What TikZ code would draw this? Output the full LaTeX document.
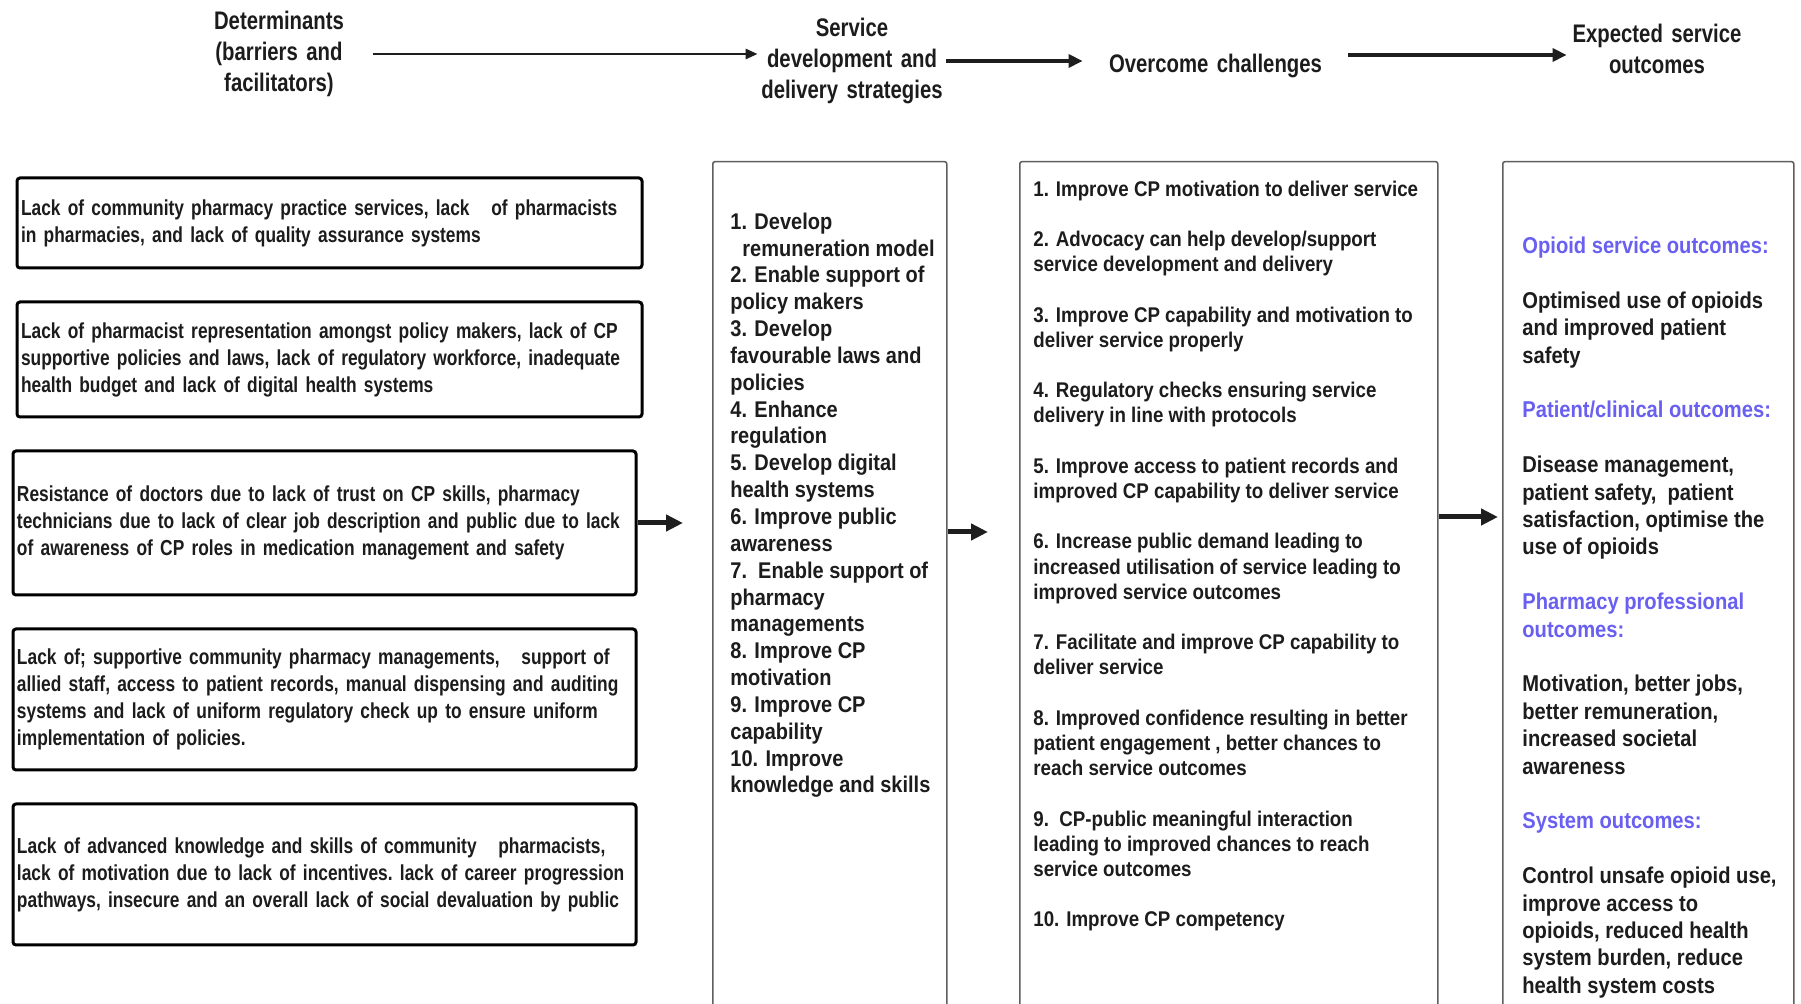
\documentclass[tikz,border=0pt]{standalone}
\usepackage{fontspec}
\setmainfont{Liberation Sans}
\newfontfamily\narrowsans[FakeStretch=0.8]{Liberation Sans}
\newfontfamily\listsans[FakeStretch=0.88]{Liberation Sans}
\usetikzlibrary{arrows.meta,calc}
\definecolor{ink}{RGB}{28,28,28}
\definecolor{arrowink}{RGB}{30,30,30}
\definecolor{frame}{RGB}{95,95,95}
\definecolor{outcomeblue}{RGB}{105,95,240}

\begin{document}
\begin{tikzpicture}[x=0.5pt,y=-0.5pt,
  every node/.style={text=ink},
  header/.style={align=center, inner sep=0pt,
    font=\narrowsans\bfseries\fontsize{12.7}{15.35}\selectfont},
  barrier/.style={draw=black, line width=1.5pt, rounded corners=1.5pt,
    align=left, inner xsep=2pt, inner ysep=0pt,
    font=\narrowsans\bfseries\fontsize{10.85}{13.5}\selectfont,
    execute at begin node={\hyphenpenalty=10000\relax\frenchspacing}},
  column/.style={draw=frame, line width=0.75pt, rounded corners=1pt,
    inner sep=0pt, anchor=north west},
  listtext/.style={align=left, inner sep=0pt, anchor=north west},
  thinarrow/.style={draw=arrowink, line width=1.3pt,
    -{Triangle[length=6pt,width=5pt]}},
  thickarrow/.style={draw=arrowink, line width=2pt,
    -{Triangle[length=7pt,width=6.5pt]}},
  flowarrow/.style={draw=arrowink, line width=2.5pt,
    -{Triangle[length=8.5pt,width=8pt]}},
]
% canvas
\path[use as bounding box, fill=white] (0,0) rectangle (1801,1004);
\clip (0,0) rectangle (1801,1004);

% ---- column headers ----
\node[header, text width=94pt] (det) at (279,54)
  {Determinants\\(barriers and\\facilitators)};
\node[header, text width=94pt] (svc) at (852,61)
  {Service\\development and\\delivery strategies};
\node[header, text width=132.5pt] (ovc) at (1215.5,66)
  {Overcome challenges};
\node[header, text width=90pt] (exp) at (1657,49)
  {Expected service\\outcomes};

\draw[thinarrow] (det.east) -- (det.east -| svc.west);
\draw[thickarrow] (svc.east) -- (svc.east -| ovc.west);
\draw[thickarrow] ($(ovc.east)+(0,-11)$) -- ($(ovc.east -| exp.west)+(0,-11)$);

% ---- determinants (barriers and facilitators) ----
\node[barrier, minimum width=312.5pt, minimum height=45pt, text width=308.5pt]
  (bar1) at (329.5,223)
  {Lack of community pharmacy practice services, lack\ \ \ of pharmacists\\
   in pharmacies, and lack of quality assurance systems};
\node[barrier, minimum width=312.5pt, minimum height=57.5pt, text width=308.5pt]
  (bar2) at (329.5,359.5)
  {Lack of pharmacist representation amongst policy makers, lack of CP\\
   supportive policies and laws, lack of regulatory workforce, inadequate\\
   health budget and lack of digital health systems};
\node[barrier, minimum width=311.5pt, minimum height=72pt, text width=307.5pt]
  (bar3) at (324.5,523)
  {Resistance of doctors due to lack of trust on CP skills, pharmacy\\
   technicians due to lack of clear job description and public due to lack\\
   of awareness of CP roles in medication management and safety};
\node[barrier, minimum width=311.5pt, minimum height=70.5pt, text width=307.5pt]
  (bar4) at (324.5,699.5)
  {Lack of; supportive community pharmacy managements,\ \ \ support of\\
   allied staff, access to patient records, manual dispensing and auditing\\
   systems and lack of uniform regulatory check up to ensure uniform\\
   implementation of policies.};
\node[barrier, minimum width=311.5pt, minimum height=70.5pt, text width=307.5pt]
  (bar5) at (324.5,874.5)
  {Lack of advanced knowledge and skills of community\ \ \ pharmacists,\\
   lack of motivation due to lack of incentives. lack of career progression\\
   pathways, insecure and an overall lack of social devaluation by public};

% ---- open-ended columns ----
\node[column, minimum width=117pt, minimum height=450pt] (strat) at (712,161) {};
\node[column, minimum width=209pt, minimum height=450pt] (chal) at (1019,161) {};
\node[column, minimum width=145.5pt, minimum height=450pt] (outc) at (1502,161) {};

% strategies
\node[listtext, font=\listsans\bfseries\fontsize{11.36}{13.42}\selectfont]
  (strattext) at (730,212.4)
  {1. Develop\\
   \hspace{6pt}remuneration model\\
   2. Enable support of\\
   policy makers\\
   3. Develop\\
   favourable laws and\\
   policies\\
   4. Enhance\\
   regulation\\
   5. Develop digital\\
   health systems\\
   6. Improve public\\
   awareness\\
   7.\ \ Enable support of\\
   pharmacy\\
   managements\\
   8. Improve CP\\
   motivation\\
   9. Improve CP\\
   capability\\
   10. Improve\\
   knowledge and skills};

% challenges overcome
\node[listtext, font=\listsans\bfseries\fontsize{10.64}{12.6}\selectfont]
  (chaltext) at (1033,180.2)
  {1. Improve CP motivation to deliver service\\[12.6pt]
   2. Advocacy can help develop/support\\
   service development and delivery\\[12.6pt]
   3. Improve CP capability and motivation to\\
   deliver service properly\\[12.6pt]
   4. Regulatory checks ensuring service\\
   delivery in line with protocols\\[12.6pt]
   5. Improve access to patient records and\\
   improved CP capability to deliver service\\[12.6pt]
   6. Increase public demand leading to\\
   increased utilisation of service leading to\\
   improved service outcomes\\[12.6pt]
   7. Facilitate and improve CP capability to\\
   deliver service\\[12.6pt]
   8. Improved confidence resulting in better\\
   patient engagement , better chances to\\
   reach service outcomes\\[12.6pt]
   9.\ \ CP-public meaningful interaction\\
   leading to improved chances to reach\\
   service outcomes\\[12.6pt]
   10. Improve CP competency};

% expected outcomes
\node[listtext, font=\listsans\bfseries\fontsize{11.45}{13.7}\selectfont]
  (outctext) at (1522,236.6)
  {\textcolor{outcomeblue}{Opioid service outcomes:}\\[13.7pt]
   Optimised use of opioids\\
   and improved patient\\
   safety\\[13.7pt]
   \textcolor{outcomeblue}{Patient/clinical outcomes:}\\[13.7pt]
   Disease management,\\
   patient safety,\ \ patient\\
   satisfaction, optimise the\\
   use of opioids\\[13.7pt]
   \textcolor{outcomeblue}{Pharmacy professional}\\
   \textcolor{outcomeblue}{outcomes:}\\[13.7pt]
   Motivation, better jobs,\\
   better remuneration,\\
   increased societal\\
   awareness\\[13.7pt]
   \textcolor{outcomeblue}{System outcomes:}\\[13.7pt]
   Control unsafe opioid use,\\
   improve access to\\
   opioids, reduced health\\
   system burden, reduce\\
   health system costs};

% ---- flow between stages ----
\draw[flowarrow] (bar3.east) -- ($(bar3.east -| strat.west)+(-29,0)$);
\draw[flowarrow] ($(strat.north east)+(0,371)$) -- ($(strat.north east -| chal.west)+(-31,371)$);
\draw[flowarrow] ($(chal.north east)+(0,356)$) -- ($(chal.north east -| outc.west)+(-4,356)$);
\end{tikzpicture}
\end{document}
